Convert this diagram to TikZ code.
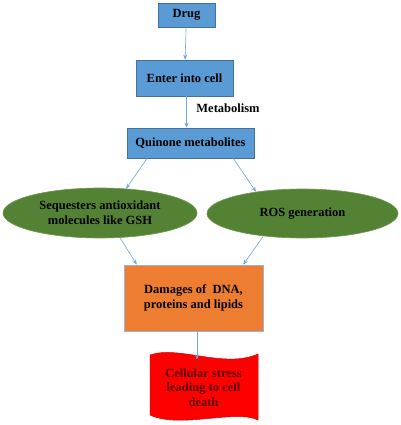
\documentclass[tikz,border=0pt]{standalone}
\usepackage{fontspec}
\setmainfont{Liberation Serif}
\usetikzlibrary{arrows.meta,shapes.geometric,calc}
\definecolor{boxblue}{HTML}{5B9BD5}
\definecolor{boxedge}{HTML}{41719C}
\definecolor{ellgreen}{HTML}{548235}
\definecolor{elledge}{HTML}{6E9A4E}
\definecolor{orangef}{HTML}{ED7D31}
\definecolor{orangee}{HTML}{9DB0CC}
\definecolor{arrowc}{HTML}{6FA8DC}
\begin{document}
\begin{tikzpicture}[x=1pt,y=-1pt,
  every node/.style={font=\fontsize{12.5}{15}\selectfont\bfseries, align=center, inner sep=0pt},
  bluebox/.style={rectangle, fill=boxblue, draw=boxedge, line width=0.6pt},
  greenell/.style={ellipse, fill=ellgreen, draw=elledge, line width=0.6pt},
  orangebox/.style={rectangle, fill=orangef, draw=orangee, line width=0.8pt},
  conn/.style={draw=arrowc, line width=0.6pt, -{Stealth[length=5pt,width=4pt]}}
]
\useasboundingbox (0,0) rectangle (400,425);
\fill[white] (0,0) rectangle (400,425);

\node[bluebox, minimum width=57pt, minimum height=24pt] (drug) at (186.5,15) {Drug};
\node[bluebox, minimum width=97pt, minimum height=36pt] (enter) at (184.5,78) {Enter into cell};
\node (met) at (228,108) {Metabolism};
\node[bluebox, minimum width=127pt, minimum height=30pt] (quin) at (190.5,143) {Quinone metabolites};

\node[greenell, minimum width=194pt, minimum height=50pt] (left) at (100,213) {Sequesters antioxidant\\molecules like GSH};
\node[greenell, minimum width=191pt, minimum height=49pt] (right) at (302.5,213.5) {ROS generation};

\node[orangebox, minimum width=139pt, minimum height=66pt] (dam) at (193.5,298) {Damages of\ \ DNA,\\proteins and lipids};

\fill[red, draw=red!80!black, line width=0.5pt]
  (150,355) .. controls (178,345) and (225,369) .. (258,354)
  -- (258,420) .. controls (236,409) and (180,429) .. (150,415) -- cycle;
\node[text=red!35!black, font=\fontsize{12.5}{14.5}\selectfont\bfseries] (cs) at (203.5,387.5) {Cellular stress\\leading to cell\\death};
\coordinate (csin) at (197,359.5);

\draw[conn] (drug) -- (enter);
\draw[conn] (enter.south) ++(2,0) coordinate (e1) -- (e1 |- quin.north);
\draw[conn] ($(quin.south west)!0.16!(quin.south east)$) -- (left.43);
\draw[conn] ($(quin.south west)!0.835!(quin.south east)$) -- (right.155);
\draw[conn] (left.-51) -- ($(dam.north west)!0.094!(dam.north east)$);
\draw[conn] (right.-150) -- ($(dam.north west)!0.856!(dam.north east)$);
\draw[conn] (dam.south -| csin) -- (csin);
\end{tikzpicture}
\end{document}
